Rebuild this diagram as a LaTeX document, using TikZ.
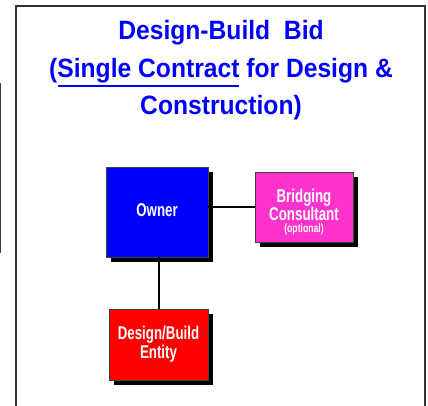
\documentclass[tikz,border=0pt]{standalone}
\usepackage{fontspec}
\setmainfont{Liberation Sans}
\newfontfamily\titlefont[FakeStretch=0.93]{Liberation Sans}
\newfontfamily\boxfont[FakeStretch=0.72]{Liberation Sans}
\usetikzlibrary{shadows}
\definecolor{ttlblue}{RGB}{0,0,255}
\definecolor{ownerblue}{RGB}{0,0,255}
\definecolor{bridgepink}{RGB}{255,51,204}
\definecolor{dbred}{RGB}{255,0,0}
\newcommand\ulbox[1]{\setbox0\hbox{#1}\rlap{\hspace{1pt}\color{ttlblue}\rule[-9.5pt]{\dimexpr\wd0-1pt\relax}{2pt}}\box0\relax}
\tikzset{
  ttl/.style={anchor=base, inner sep=0pt, text=ttlblue, font=\titlefont\bfseries\fontsize{26.5}{37.5}\selectfont},
  bx/.style={draw=black!75, line width=0.8pt, text=white, align=center, inner sep=0pt,
    font=\boxfont\bfseries\fontsize{18.5}{17.5}\selectfont,
    drop shadow={shadow xshift=4.5pt, shadow yshift=-5pt, fill=black, opacity=1}},
  bxtxt/.style={text=white, align=center, inner sep=0pt,
    font=\boxfont\bfseries\fontsize{18.5}{17}\selectfont},
  conn/.style={line width=2pt, black},
  frame/.style={line width=1.6pt, black!80}
}
\begin{document}
\begin{tikzpicture}[x=1pt,y=-1pt]
\useasboundingbox (0,0) rectangle (428,406);
\fill[white] (0,0) rectangle (428,406);
% frame
\draw[frame] (16,407) -- (16,6) -- (425,6) -- (425,407);
\draw[line width=1.5pt, black!75] (0.5,83) -- (0.5,253);
% title
\node[ttl] (title1) at (221,40) {Design-Build\ \ Bid};
\node[ttl] (title2) at (221,77.5) {(\ulbox{Single Contract} for Design \&};
\node[ttl] (title3) at (221,115) {Construction)};
% boxes
\node[bx, fill=ownerblue, minimum width=102pt, minimum height=90pt] (owner) at (157,212) {\raisebox{3pt}{Owner}};
\node[bx, fill=bridgepink, minimum width=98pt, minimum height=70pt] (bridge) at (304,207) {};
\node[bxtxt] (bridgetxt) at ([yshift=-5pt]bridge.center)
  {Bridging\\Consultant\\[-5pt]{\fontsize{12}{12}\selectfont (optional)}};
\node[bx, fill=dbred, minimum width=99pt, minimum height=71pt] (db) at (158.5,344.5) {Design/Build\\[1.5pt]Entity};
% connectors
\draw[conn] (bridge.west -| owner.east) -- (bridge.west);
\draw[conn] (db.north |- owner.south) -- (db.north);
\end{tikzpicture}
\end{document}
